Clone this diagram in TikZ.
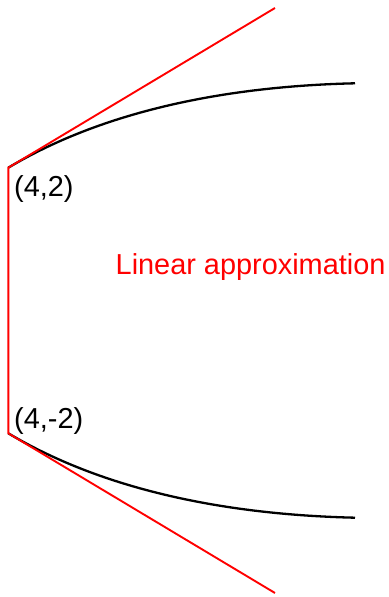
\documentclass[tikz,border=0pt]{standalone}
\usepackage{fontspec}
\setmainfont{Liberation Sans}
\usepackage{xcolor}
\usepackage{tikz}
\usetikzlibrary{positioning}
\definecolor{approx}{HTML}{FF0000}
\tikzset{
  crv/.style={draw=black, line width=2.3bp},
  tng/.style={draw=approx, line width=1.9bp},
  lbl/.style={inner sep=0pt, anchor=base west,
              font=\fontsize{29}{31}\selectfont},
}
\begin{document}
\begin{tikzpicture}[x=1bp, y=1bp]
\useasboundingbox (0,-296.5) rectangle (388,300.5);

% ---- points ----
\coordinate (p42)  at (8.3,132.8);
\coordinate (p4m2) at (8.3,-132.8);
\coordinate (c1) at (355,217.2);
\coordinate (c2) at (355,-217.2);
\coordinate (t1) at (275,292.5);
\coordinate (t2) at (275,-292.5);

% ---- curves ----
\draw[crv] (p42)  .. controls (103.3,189.4) and (225,214.2) .. (c1);
\draw[crv] (p4m2) .. controls (103.3,-189.4) and (225,-214.2) .. (c2);

% ---- linear approximation ----
\draw[tng] (t1) -- (p42) -- (p4m2) -- (t2);

% ---- labels ----
\node[lbl] (l42)  at (14,104) {(4,2)};
\node[lbl] (l4m2) at (14,-128) {(4,-2)};
\node[lbl, text=approx] (lin) at (115.5,26.2) {Linear approximation};

\end{tikzpicture}
\end{document}
